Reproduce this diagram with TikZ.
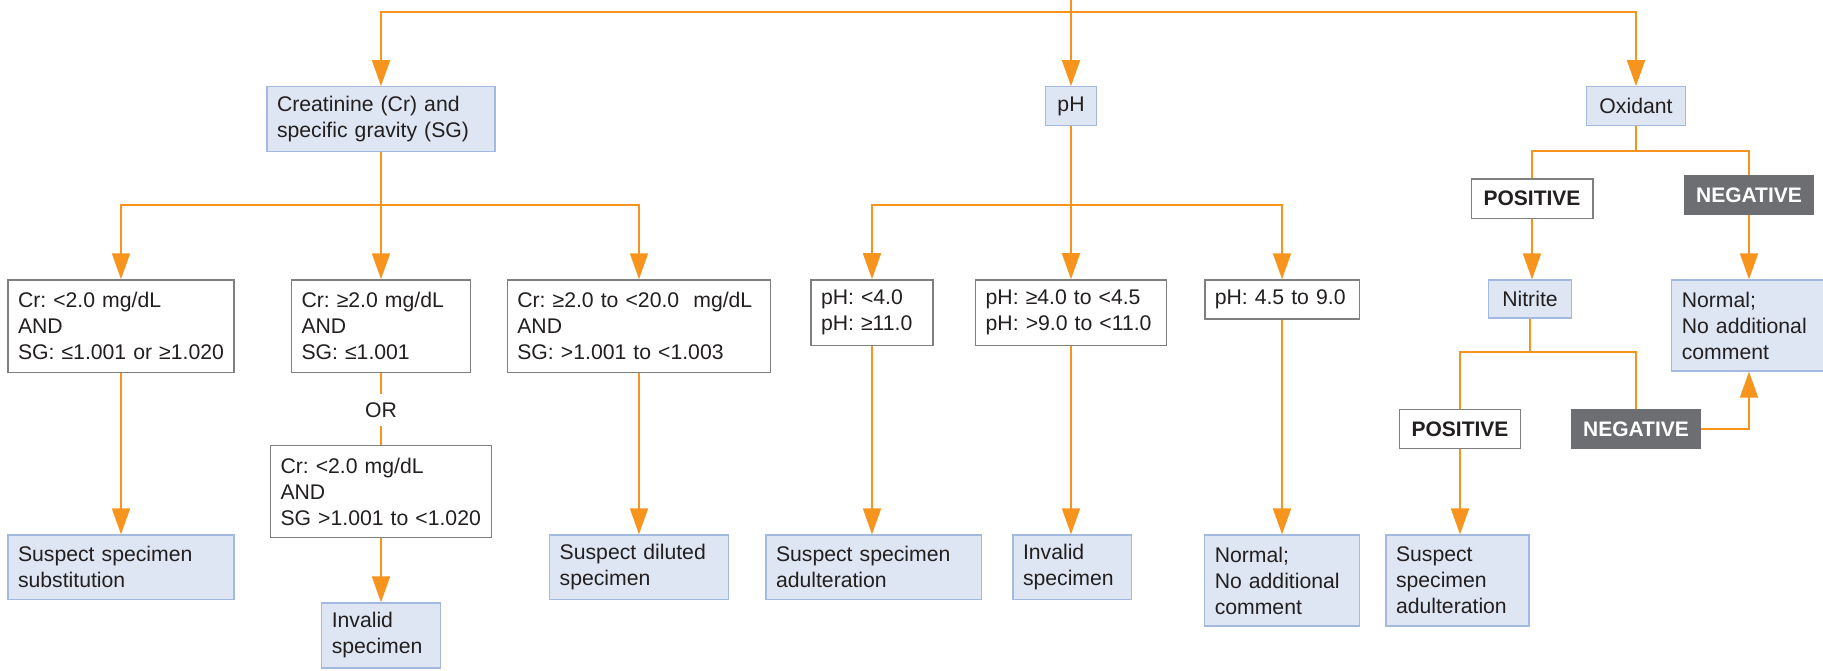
\documentclass[tikz,border=0pt]{standalone}
\usepackage{fontspec}
\setmainfont{Liberation Sans}
\usetikzlibrary{arrows.meta}
\definecolor{org}{HTML}{F7941D}
\definecolor{bluefill}{HTML}{DFE6F3}
\definecolor{blueline}{HTML}{A3B9DF}
\definecolor{grayline}{HTML}{7F7F7F}
\definecolor{darkfill}{HTML}{6D6E71}
\definecolor{txt}{HTML}{231F20}
\frenchspacing
\begin{document}
\begin{tikzpicture}[x=1pt,y=-1pt,
  every node/.style={font=\fontsize{21.2}{26}\selectfont\frenchspacing, text=txt},
  bluebox/.style={draw=blueline, fill=bluefill, line width=1.2pt, inner xsep=10pt, inner ysep=0pt, align=left},
  condbox/.style={draw=grayline, fill=white, line width=1.5pt, inner xsep=10pt, inner ysep=0pt, align=left},
  posbox/.style={draw=grayline, fill=white, line width=1.5pt, inner sep=0pt, font=\fontsize{21}{26}\selectfont\bfseries},
  negbox/.style={fill=darkfill, text=white, inner sep=0pt, font=\fontsize{21}{26}\selectfont\bfseries},
  link/.style={draw=org, line width=1.8pt},
  arr/.style={link, -{Triangle[length=26pt,width=18pt]}},
]
\useasboundingbox (0,0) rectangle (1823,670);

% level 1
\node[bluebox, minimum width=228pt, minimum height=65pt, text width=208pt] (cr) at (381,119.2) {Creatinine (Cr) and\\specific gravity (SG)};
\node[bluebox, minimum width=51.4pt, minimum height=38.5pt] (ph) at (1071,106) {pH};
\node[bluebox, minimum width=99pt, minimum height=38.5pt] (ox) at (1636,106) {Oxidant};

% creatinine branch
\node[condbox, minimum width=226pt, minimum height=92.6pt, text width=206pt] (c1) at (121,326.3) {Cr: <2.0 mg/dL\\AND\\SG: ≤1.001 or ≥1.020};
\node[condbox, minimum width=179pt, minimum height=92.6pt, text width=159pt] (c2) at (381,326.3) {Cr: ≥2.0 mg/dL\\AND\\SG: ≤1.001};
\node[condbox, minimum width=263.3pt, minimum height=92.6pt, text width=243.3pt] (c3) at (639,326.3) {Cr: ≥2.0 to <20.0~ mg/dL\\AND\\SG: >1.001 to <1.003};
\node[text height=15pt, text depth=0pt, inner xsep=2pt, inner ysep=8pt] (or) at (381,410) {OR};
\node[condbox, minimum width=219pt, minimum height=91.8pt, text width=201pt] (c4) at (381,491.6) {Cr: <2.0 mg/dL\\AND\\SG >1.001 to <1.020};

\node[bluebox, minimum width=226pt, minimum height=64.5pt, text width=206pt] (subst) at (121,567.2) {Suspect specimen\\substitution};
\node[bluebox, minimum width=118.5pt, minimum height=65pt, text width=98.5pt] (inv1) at (381,635.5) {Invalid\\specimen};
\node[bluebox, minimum width=178.6pt, minimum height=64.5pt, text width=158.6pt] (dil) at (639,567.2) {Suspect diluted\\specimen};

% pH branch
\node[condbox, minimum width=122pt, minimum height=65.3pt, text width=102pt] (pa) at (872,312.6) {pH: <4.0\\pH: ≥11.0};
\node[condbox, minimum width=190.6pt, minimum height=65.3pt, text width=170.6pt] (pb) at (1071,312.6) {pH: ≥4.0 to <4.5\\pH: >9.0 to <11.0};
\node[condbox, minimum width=154.5pt, minimum height=38.8pt, text width=134.5pt] (pc) at (1282,299.4) {pH: 4.5 to 9.0};

\node[bluebox, minimum width=215.2pt, minimum height=64.5pt, text width=195.2pt] (adul1) at (873.6,567.2) {Suspect specimen\\adulteration};
\node[bluebox, minimum width=118.6pt, minimum height=64.5pt, text width=98.6pt] (inv2) at (1072.3,567.2) {Invalid\\specimen};
\node[bluebox, minimum width=154.5pt, minimum height=91pt, text width=134.5pt] (norm1) at (1282,580.5) {Normal;\\No additional\\comment};

% oxidant branch
\node[posbox, minimum width=121.5pt, minimum height=39.4pt] (pos1) at (1532,198.7) {POSITIVE};
\node[negbox, minimum width=130.3pt, minimum height=39.8pt] (neg1) at (1749,195.1) {NEGATIVE};
\node[bluebox, minimum width=82.6pt, minimum height=38pt] (nitrite) at (1530,299) {Nitrite};
\node[bluebox, minimum width=154.4pt, minimum height=91pt, text width=134.4pt] (norm2) at (1749,325.5) {Normal;\\No additional\\comment};
\node[posbox, minimum width=121.2pt, minimum height=39.3pt] (pos2) at (1460,429) {POSITIVE};
\node[negbox, minimum width=129.5pt, minimum height=39.3pt] (neg2) at (1636,429) {NEGATIVE};
\node[bluebox, minimum width=143pt, minimum height=91pt, text width=123pt] (adul2) at (1457.5,580.5) {Suspect\\specimen\\adulteration};

% connectors
\coordinate (top) at (1071,0);
\coordinate (hbar) at (1071,12);
\draw[arr] (top) -- (ph.north);
\draw[arr] (hbar) -| (cr.north);
\draw[arr] (hbar) -| (ox.north);

\coordinate (crb) at (381,205);
\draw[link] (cr.south) -- (crb);
\draw[arr] (crb) -| (c1.north);
\draw[arr] (crb) -- (c2.north);
\draw[arr] (crb) -| (c3.north);
\draw[arr] (c1.south) -- (subst.north);
\draw[link] (c2.south) -- (or.north);
\draw[link] (or.south) -- (c4.north);
\draw[arr] (c4.south) -- (inv1.north);
\draw[arr] (c3.south) -- (dil.north);

\coordinate (phb) at (1071,205);
\draw[link] (ph.south) -- (phb);
\draw[arr] (phb) -| (pa.north);
\draw[arr] (phb) -- (pb.north);
\draw[arr] (phb) -| (pc.north);
\draw[arr] (pa.south) -- (pa.south |- adul1.north);
\draw[arr] (pb.south) -- (pb.south |- inv2.north);
\draw[arr] (pc.south) -- (norm1.north);

\coordinate (oxb) at (1636,151);
\draw[link] (ox.south) -- (oxb);
\draw[link] (oxb) -| (pos1.north);
\draw[link] (oxb) -| (neg1.north);
\draw[arr] (pos1.south) -- (pos1.south |- nitrite.north);
\draw[arr] (neg1.south) -- (neg1.south |- norm2.north);
\coordinate (nb) at (1530,352);
\draw[link] (nitrite.south) -- (nb);
\draw[link] (nb) -| (pos2.north);
\draw[link] (nb) -| (neg2.north);
\draw[arr] (pos2.south) -- (pos2.south |- adul2.north);
\draw[arr] (neg2.east) -| (norm2.south);
\end{tikzpicture}
\end{document}
